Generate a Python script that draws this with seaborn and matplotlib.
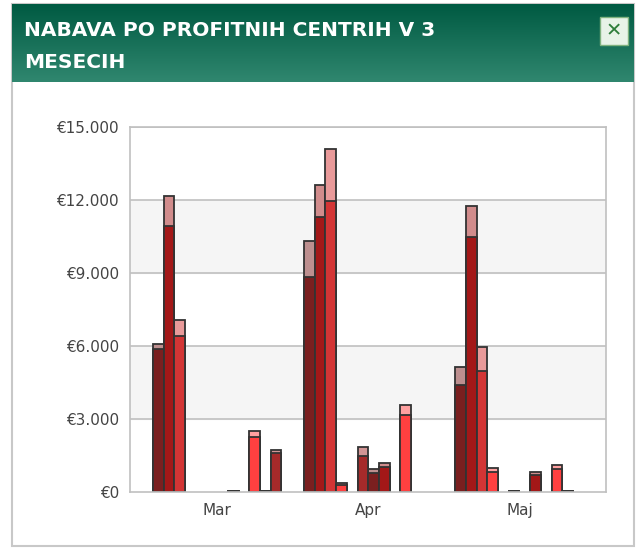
import numpy as np
import pandas as pd
import matplotlib
matplotlib.use("Agg")
import matplotlib.pyplot as plt
from matplotlib.colors import to_rgb
from matplotlib.ticker import FuncFormatter
import seaborn as sns

# data: 3 months x 12 profit centres (slots); base value and total value (base + extra)
months = ["Mar", "Apr", "Maj"]
slots = list(range(12))
base_mar = [5890, 10930, 6410, 0, 0, 0, 0, 50, 0, 2270, 40, 1600]
total_mar = [6080, 12170, 7070, 0, 0, 0, 0, 60, 0, 2520, 50, 1730]
base_apr = [8850, 11320, 11970, 275, 0, 1480, 770, 1040, 0, 3150, 0, 0]
total_apr = [10330, 12630, 14110, 380, 0, 1840, 960, 1200, 0, 3560, 0, 0]
base_maj = [4410, 10490, 4990, 820, 0, 40, 0, 710, 0, 930, 40, 0]
total_maj = [5150, 11750, 5950, 990, 0, 40, 0, 820, 0, 1100, 40, 0]

base_cols = ["#7a1f1f", "#a31818", "#d33535", "#ff4040", "#c03030", "#a52a2a"] * 2


def lighten(c, a=0.5):
    r = np.array(to_rgb(c))
    return tuple(r * a + (1 - a))


top_cols = [lighten(c) for c in base_cols]

rows = []
for m, b, t in zip(months, [base_mar, base_apr, base_maj], [total_mar, total_apr, total_maj]):
    for s in slots:
        rows.append({"month": m, "slot": s, "base": b[s], "total": t[s]})
df = pd.DataFrame(rows)

W, H = 642, 550
fig = plt.figure(figsize=(W / 100, H / 100), dpi=100)

# panel frame
fig.patches.append(plt.Rectangle((12 / W, 4 / H), 622 / W, 542 / H, transform=fig.transFigure,
                                 facecolor="white", edgecolor="#c8c8c8", lw=1.5, zorder=-10))
# header gradient
hax = fig.add_axes([12 / W, 1 - 82 / H, 622 / W, 78 / H])
grad = np.linspace(0, 1, 100).reshape(-1, 1)
c1, c2 = np.array(to_rgb("#005a42")), np.array(to_rgb("#30876f"))
img = c1 + grad[..., None] * (c2 - c1)
hax.imshow(img.reshape(100, 1, 3), aspect="auto", extent=[0, 1, 0, 1])
hax.axis("off")
fig.text(24 / W, 1 - 31 / H, "NABAVA PO PROFITNIH CENTRIH V 3", color="white",
         fontsize=14.5, fontweight="bold", va="center", family="DejaVu Sans")
fig.text(24 / W, 1 - 62 / H, "MESECIH", color="white",
         fontsize=14.5, fontweight="bold", va="center", family="DejaVu Sans")
fig.patches.append(plt.Rectangle((600 / W, 1 - 45 / H), 28 / W, 28 / H, transform=fig.transFigure,
                                 facecolor="#e8f3e8", edgecolor="#7fb27f", lw=1))
fig.text(614 / W, 1 - 31 / H, "✕", color="#2e7d3a", fontsize=14, ha="center", va="center")

ax = fig.add_axes([130 / W, 58 / H, 476 / W, 365 / H])
ax.set_facecolor("white")
for lo in (3000, 9000):
    ax.axhspan(lo, lo + 3000, color="#f5f5f5", zorder=0)
for yv in range(3000, 15001, 3000):
    ax.axhline(yv, color="#c0c0c0", lw=1.2, zorder=0.5)

kw = dict(x="month", hue="slot", dodge=True, ax=ax, width=0.85, legend=False,
          edgecolor="#333333", linewidth=1.3, saturation=1, errorbar=None, gap=0)
sns.barplot(data=df, y="total", palette=top_cols, **kw)
sns.barplot(data=df, y="base", palette=base_cols, **kw)
for p in ax.patches:
    if p.get_height() == 0:
        p.set_visible(False)

ax.set_ylim(0, 15000)
ax.set_xlim(-0.577, 2.573)
ax.set_yticks(range(0, 15001, 3000))
ax.yaxis.set_major_formatter(FuncFormatter(lambda v, _: "€" + f"{int(v):,}".replace(",", ".")))
ax.set_xlabel("")
ax.set_ylabel("")
ax.tick_params(axis="both", length=0, labelsize=11, colors="#444444", pad=8)
for s in ax.spines.values():
    s.set_color("#c0c0c0")
    s.set_linewidth(1.2)

fig.savefig("out.png", dpi=100)
